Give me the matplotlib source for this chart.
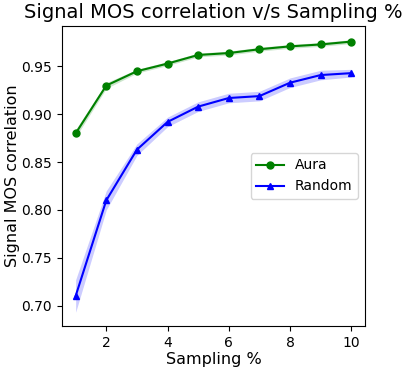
import matplotlib
matplotlib.use("Agg")
import matplotlib.pyplot as plt
import numpy as np

sampling = [1, 2, 3, 4, 5, 6, 7, 8, 9, 10]
aura = [0.880, 0.930, 0.945, 0.953, 0.962, 0.964, 0.968, 0.971, 0.973, 0.976]
aura_err = [0.004, 0.003, 0.002, 0.002, 0.002, 0.002, 0.002, 0.002, 0.002, 0.002]
random_ = [0.710, 0.810, 0.863, 0.892, 0.908, 0.917, 0.919, 0.933, 0.941, 0.943]
random_err = [0.017, 0.010, 0.006, 0.005, 0.005, 0.005, 0.005, 0.005, 0.005, 0.004]

fig = plt.figure(figsize=(4.07, 3.72), dpi=100)
ax = fig.add_axes([0.152, 0.124, 0.745, 0.806])

a = np.array(aura); ae = np.array(aura_err)
r = np.array(random_); re = np.array(random_err)
ax.plot(sampling, aura, color='green', marker='o', markersize=5, linewidth=1.5, label='Aura')
ax.fill_between(sampling, a - ae, a + ae, color='green', alpha=0.2, linewidth=0)
ax.plot(sampling, random_, color='blue', marker='^', markersize=5, linewidth=1.5, label='Random')
ax.fill_between(sampling, r - re, r + re, color='blue', alpha=0.2, linewidth=0)

ax.set_title('Signal MOS correlation v/s Sampling %', fontsize=14)
ax.set_xlabel('Sampling %', fontsize=11.5, labelpad=2)
ax.set_ylabel('Signal MOS correlation', fontsize=11.5, labelpad=1)
ax.set_xticks([2, 4, 6, 8, 10])
ax.set_yticks([0.70, 0.75, 0.80, 0.85, 0.90, 0.95])
ax.tick_params(labelsize=10)
ax.legend(loc='center right', fontsize=10)

fig.savefig('out.png', dpi=100)
